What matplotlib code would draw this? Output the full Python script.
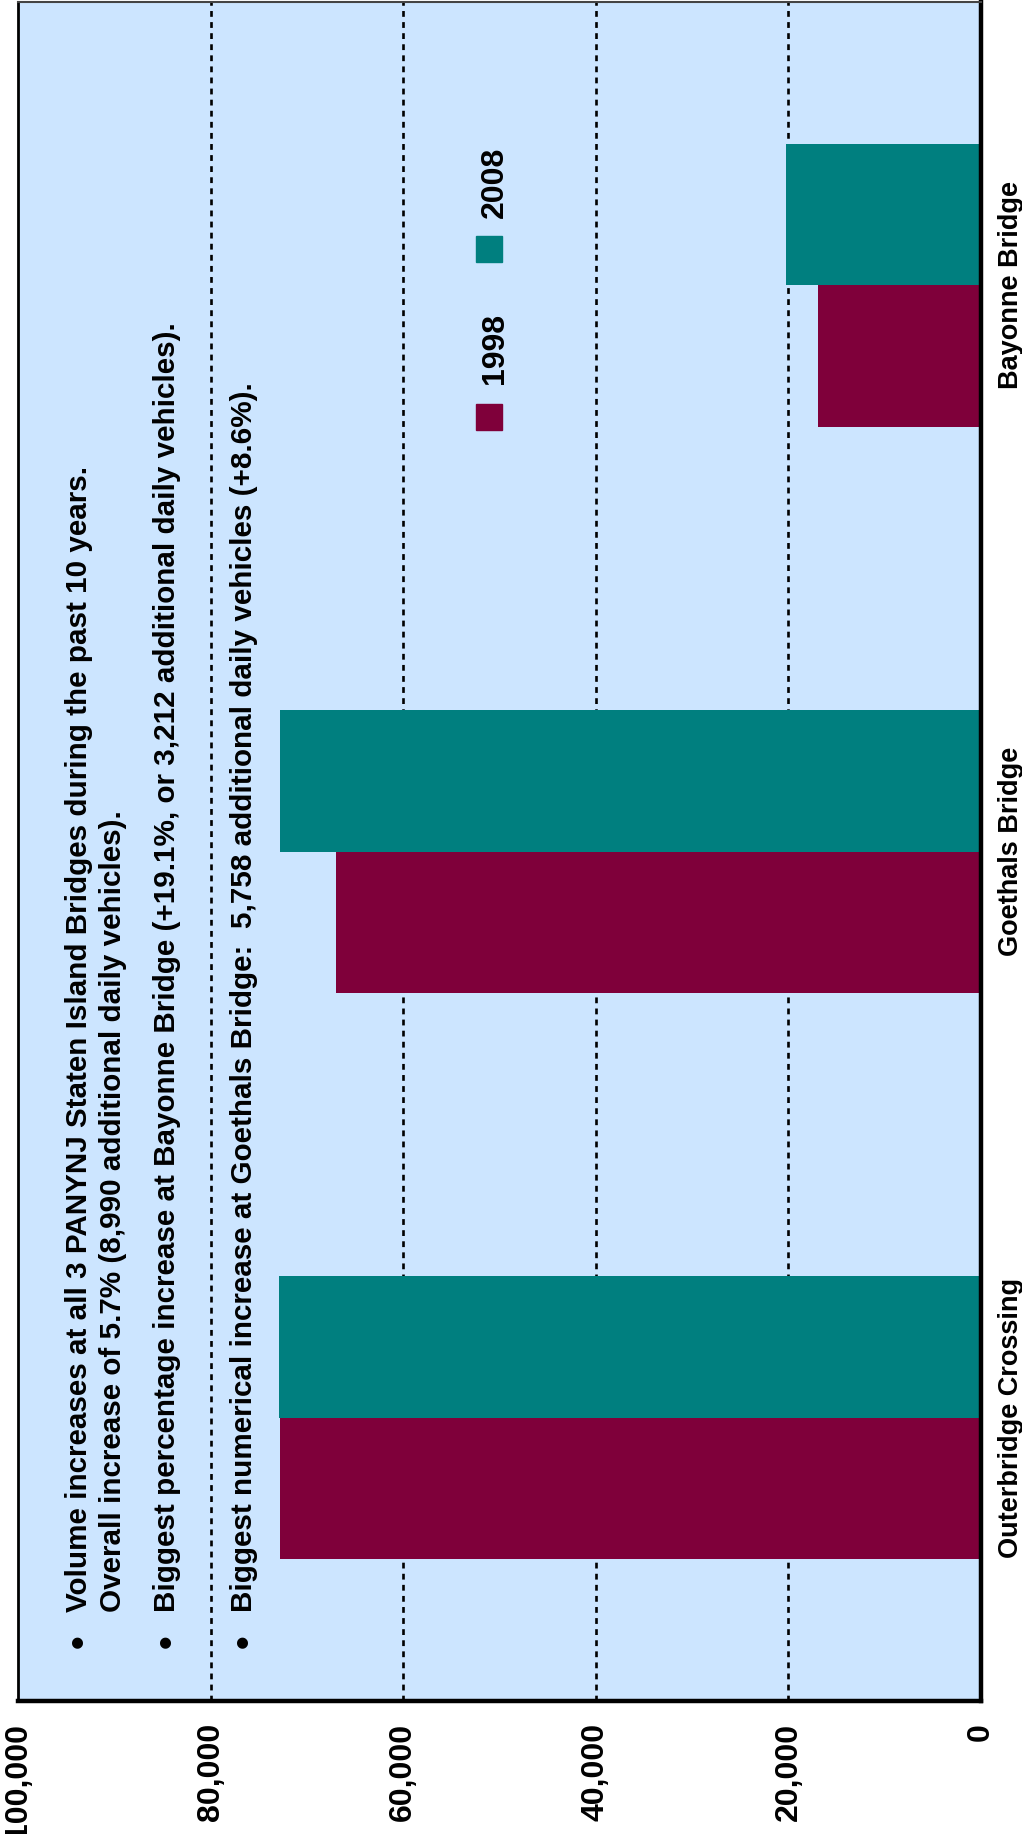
import matplotlib
matplotlib.use("Agg")
import matplotlib.pyplot as plt
from matplotlib.patches import Rectangle
import numpy as np

# data (daily vehicles)
BRIDGES = ["Outerbridge Crossing", "Goethals Bridge", "Bayonne Bridge"]
V1998 = [72830, 66990, 16930]
V2008 = [72930, 72750, 20200]
YEARS = ["1998", "2008"]
XTICKS = [0, 20000, 40000, 60000, 80000, 100000]
XTICKLABELS = ["0", "20,000", "40,000", "60,000", "80,000", "100,000"]
NOTES = [
    "Volume increases at all 3 PANYNJ Staten Island Bridges during the past 10 years.",
    "Overall increase of 5.7% (8,990 additional daily vehicles).",
    "Biggest percentage increase at Bayonne Bridge (+19.1%, or 3,212 additional daily vehicles).",
    "Biggest numerical increase at Goethals Bridge:  5,758 additional daily vehicles (+8.6%).",
]
BULLETS = [True, False, True, True]

C98 = "#7F003A"
C08 = "#007F7F"
BG = "#CCE5FF"
FONT = "Liberation Sans"

W, H = 1022, 1834


def fx(px):
    return px / W


def fy(py):
    return 1 - py / H


plt.rcParams.update({"font.family": [FONT, "DejaVu Sans"], "font.weight": "bold"})

fig = plt.figure(figsize=(W / 100, H / 100), dpi=100)
ax = fig.add_axes([fx(18), fy(1701), fx(981) - fx(18), fy(2) - fy(1701)])
ax.set_facecolor(BG)

y = np.arange(len(BRIDGES))
h = 0.25
ax.barh(y + h / 2, V2008, height=h, color=C08, zorder=3)
ax.barh(y - h / 2, V1998, height=h, color=C98, zorder=3)

ax.set_xlim(100000, 0)
ax.set_ylim(-0.5, 2.5)
ax.set_xticks(XTICKS)
ax.set_xticklabels(XTICKLABELS, rotation=90, fontsize=23, fontweight="bold",
                   va="top", ha="center")
ax.tick_params(axis="x", length=0, pad=16)
ax.yaxis.tick_right()
ax.set_yticks(y)
ax.set_yticklabels(BRIDGES, rotation=90, fontsize=19.5, fontweight="bold",
                   va="center", ha="left")
ax.tick_params(axis="y", length=0, pad=12)

for v in XTICKS[1:-1]:
    ax.axvline(v, color="black", lw=1.9, ls=(0, (2.2, 2.0)), zorder=2)

ax.spines["right"].set_linewidth(3.2)
ax.spines["bottom"].set_linewidth(3.2)
ax.spines["left"].set_linewidth(2.0)
ax.spines["top"].set_linewidth(1.5)
ax.spines["top"].set_color("#444444")
for s in ax.spines.values():
    s.set_zorder(5)

# notes block (rotated)
baselines = [87, 121, 175, 252]
for txt, bl, bul in zip(NOTES, baselines, BULLETS):
    fig.text(fx(bl), fy(1612), txt, rotation=90, rotation_mode="anchor",
             ha="left", va="baseline", fontsize=21.3, fontweight="bold")
    if bul:
        fig.text(fx(bl + 3), fy(1648), "\u2022", rotation=90, rotation_mode="anchor",
                 ha="left", va="baseline", fontsize=28, fontweight="bold")

# legend
for lab, col, sq_top, txt_bot in ((YEARS[0], C98, 404, 384), (YEARS[1], C08, 236, 218)):
    fig.patches.append(Rectangle((fx(476), fy(sq_top + 26)), fx(26), 26 / H,
                                 transform=fig.transFigure, color=col))
    fig.text(fx(503), fy(txt_bot), lab, rotation=90, rotation_mode="anchor",
             ha="left", va="baseline", fontsize=23, fontweight="bold")

fig.savefig("out.png", dpi=100)
